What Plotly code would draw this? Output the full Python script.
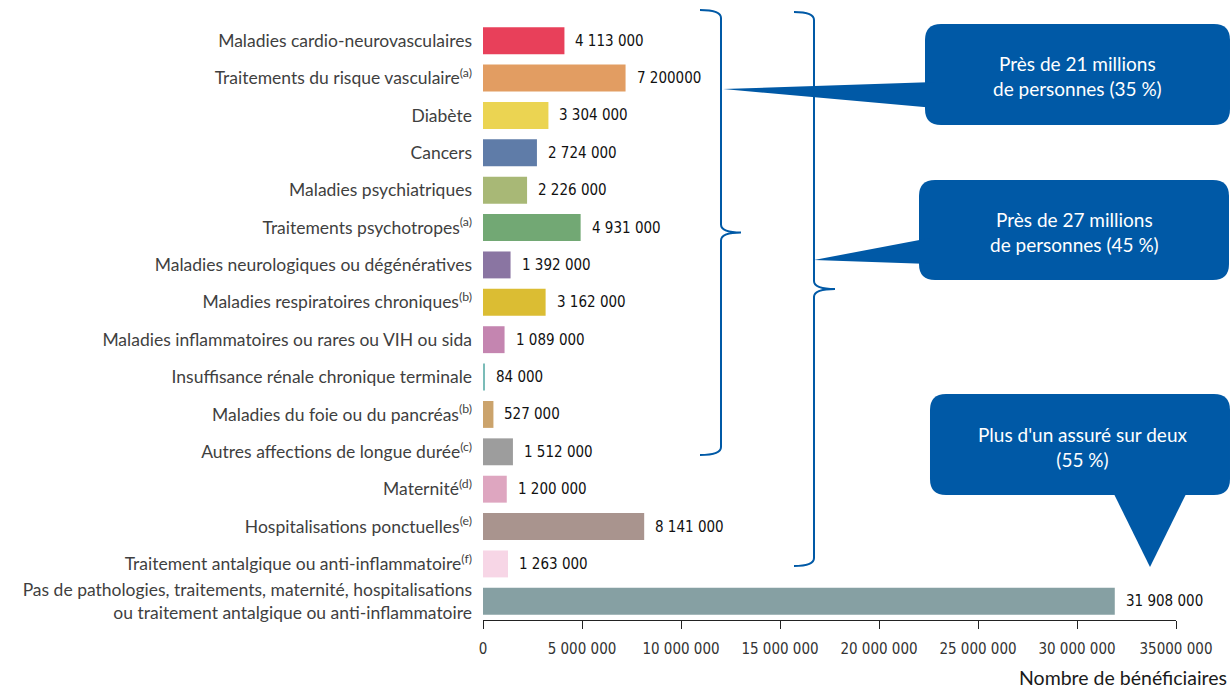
import plotly.graph_objects as go

categories = [
    "Maladies cardio-neurovasculaires",
    "Traitements du risque vasculaire<sup>(a)</sup>",
    "Diabète",
    "Cancers",
    "Maladies psychiatriques",
    "Traitements psychotropes<sup>(a)</sup>",
    "Maladies neurologiques ou dégénératives",
    "Maladies respiratoires chroniques<sup>(b)</sup>",
    "Maladies inflammatoires ou rares ou VIH ou sida",
    "Insuffisance rénale chronique terminale",
    "Maladies du foie ou du pancréas<sup>(b)</sup>",
    "Autres affections de longue durée<sup>(c)</sup>",
    "Maternité<sup>(d)</sup>",
    "Hospitalisations ponctuelles<sup>(e)</sup>",
    "Traitement antalgique ou anti-inflammatoire<sup>(f)</sup>",
    "Pas de pathologies, traitements, maternité, hospitalisations<br>ou traitement antalgique ou anti-inflammatoire",
]
values = [4113000, 7200000, 3304000, 2724000, 2226000, 4931000, 1392000, 3162000,
          1089000, 84000, 527000, 1512000, 1200000, 8141000, 1263000, 31908000]
value_labels = ["4 113 000", "7 200000", "3 304 000", "2 724 000", "2 226 000", "4 931 000",
                "1 392 000", "3 162 000", "1 089 000", "84 000", "527 000", "1 512 000",
                "1 200 000", "8 141 000", "1 263 000", "31 908 000"]
colors = ["#e8405a", "#e29d62", "#ebd452", "#5f7ca8", "#a8b876", "#72a874", "#8a75a2", "#dbbd33",
          "#c485b0", "#7bbcb8", "#cba36c", "#9d9d9d", "#dea6c0", "#a9948e", "#f7d6e6", "#86a0a3"]
tick_vals = [0, 5000000, 10000000, 15000000, 20000000, 25000000, 30000000, 35000000]
tick_text = ["0", "5 000 000", "10 000 000", "15 000 000", "20 000 000", "25 000 000",
             "30 000 000", "35000 000"]
callout_texts = ["Près de 21 millions<br>de personnes (35 %)",
                 "Près de 27 millions<br>de personnes (45 %)",
                 "Plus d'un assuré sur deux<br>(55 %)"]

BLUE = "#0059a6"
W, H = 1231, 689
L, R, T, B = 483, 1176, 22, 620


def px(x):
    return (x - L) / (R - L)


def py(y):
    return (B - y) / (B - T)


def path(cmds):
    out = []
    for c in cmds:
        op, pts = c[0], c[1:]
        coords = []
        for i in range(0, len(pts), 2):
            coords.append("%.5f,%.5f" % (px(pts[i]), py(pts[i + 1])))
        out.append(op + " " + " ".join(coords))
    return " ".join(out)


def brace(x, top, bot, hook, tip):
    mid = (top + bot) / 2
    return path([("M", hook, top), ("Q", x, top, x, top + 8), ("L", x, mid - 8),
                 ("Q", x, mid, tip, mid), ("Q", x, mid, x, mid + 8), ("L", x, bot - 8),
                 ("Q", x, bot, hook, bot)])


def rbox(x0, y0, x1, y1, r):
    return path([("M", x0 + r, y0), ("L", x1 - r, y0), ("Q", x1, y0, x1, y0 + r),
                 ("L", x1, y1 - r), ("Q", x1, y1, x1 - r, y1), ("L", x0 + r, y1),
                 ("Q", x0, y1, x0, y1 - r), ("L", x0, y0 + r), ("Q", x0, y0, x0 + r, y0)]) + " Z"


def tri(pts):
    return path([("M",) + pts[0], ("L",) + pts[1], ("L",) + pts[2]]) + " Z"


fig = go.Figure()
fig.add_trace(go.Bar(
    x=values, y=categories, orientation="h",
    marker=dict(color=colors, line=dict(width=0)),
    hoverinfo="skip",
))

annotations = []
for v, c, t in zip(values, categories, value_labels):
    annotations.append(dict(x=v, y=c, xref="x", yref="y", text=t, showarrow=False,
                            xanchor="left", xshift=9,
                            font=dict(family="DejaVu Sans Condensed", size=15, color="#111111")))

shapes = []
shapes.append(dict(type="path", xref="paper", yref="paper", path=brace(721, 10, 455, 700, 741),
                   line=dict(color=BLUE, width=2)))
shapes.append(dict(type="path", xref="paper", yref="paper", path=brace(814, 12, 566, 794, 835),
                   line=dict(color=BLUE, width=2)))

boxes = [(925, 24, 1230, 125), (919, 180, 1229, 280), (930, 394, 1230, 495)]
tails = [[(723, 89), (935, 82), (935, 108)],
         [(814, 260), (930, 238), (930, 264)],
         [(1112, 490), (1188, 490), (1150, 567)]]
text_pos = [(1077, 76), (1074, 232), (1082, 447)]
for bx, tl, tp, txt in zip(boxes, tails, text_pos, callout_texts):
    shapes.append(dict(type="path", xref="paper", yref="paper", path=rbox(*bx, 16),
                       fillcolor=BLUE, line=dict(width=0)))
    shapes.append(dict(type="path", xref="paper", yref="paper", path=tri(tl),
                       fillcolor=BLUE, line=dict(width=0)))
    annotations.append(dict(x=px(tp[0]), y=py(tp[1]), xref="paper", yref="paper", text=txt,
                            showarrow=False, xanchor="center", yanchor="middle",
                            font=dict(family="Lato", size=19, color="white")))

annotations.append(dict(x=px(1229), y=py(677), xref="paper", yref="paper",
                        text="Nombre de bénéficiaires", showarrow=False,
                        xanchor="right", yanchor="middle",
                        font=dict(family="Lato", size=19.5, color="#1a1a1a")))

fig.update_layout(
    width=W, height=H,
    margin=dict(l=L, r=W - R, t=T, b=H - B, pad=0),
    paper_bgcolor="white", plot_bgcolor="white",
    bargap=0.28, showlegend=False,
    shapes=shapes, annotations=annotations,
    xaxis=dict(range=[0, 35000000], tickvals=tick_vals, ticktext=tick_text,
               showgrid=False, zeroline=False, showline=True, linecolor="#222222", linewidth=1,
               ticks="outside", ticklen=8, tickcolor="#222222", ticklabelstandoff=7,
               tickfont=dict(family="DejaVu Sans Condensed", size=15, color="#333333"),
               fixedrange=True),
    yaxis=dict(range=[15.5, -0.5], showgrid=False, zeroline=False, showline=False, ticks="",
               ticklabelstandoff=10,
               tickfont=dict(family="Lato", size=17.5, color="#3f3f3f"),
               fixedrange=True),
)

# the page has a default 8px body margin; drop it so the figure fills the window
fig.write_html("out.html", config={"displayModeBar": False},
               post_script="document.body.style.margin='0';")
